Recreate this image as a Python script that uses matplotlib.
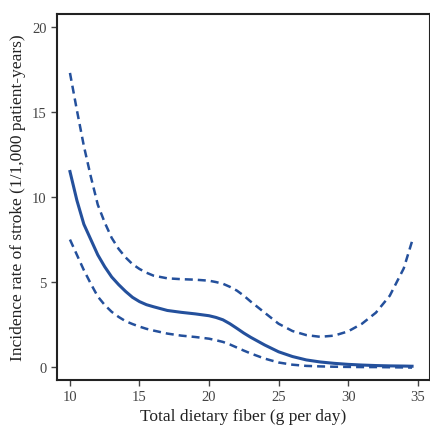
import matplotlib
matplotlib.use("Agg")
import matplotlib.pyplot as plt

LINE_COLOR = "#24509c"

fiber = [10, 10.5, 11, 11.5, 12, 12.5, 13, 13.5, 14, 14.5, 15, 15.5, 16, 17,
         18, 19, 20, 20.5, 21, 21.5, 22, 22.5, 23, 24, 25, 26, 27, 28, 29, 30,
         31, 32, 33, 34, 34.6]

rate = [11.5, 9.8, 8.4, 7.5, 6.6, 5.9, 5.3, 4.85, 4.45, 4.1, 3.85, 3.67, 3.55,
        3.33, 3.22, 3.13, 3.02, 2.92, 2.78, 2.55, 2.28, 2.0, 1.75, 1.3, 0.9,
        0.62, 0.42, 0.3, 0.22, 0.16, 0.12, 0.09, 0.07, 0.06, 0.05]

lower = [7.5, 6.6, 5.7, 4.9, 4.15, 3.65, 3.25, 2.95, 2.7, 2.53, 2.38, 2.25,
         2.15, 1.97, 1.85, 1.77, 1.67, 1.58, 1.48, 1.33, 1.15, 0.97, 0.8, 0.5,
         0.27, 0.14, 0.07, 0.04, 0.02, 0.01, 0.0, 0.0, -0.01, -0.02, -0.03]

upper = [17.3, 15.1, 13.0, 11.2, 9.55, 8.5, 7.6, 6.95, 6.45, 6.05, 5.77, 5.55,
         5.38, 5.22, 5.17, 5.14, 5.08, 5.0, 4.9, 4.72, 4.5, 4.2, 3.85, 3.2,
         2.55, 2.12, 1.88, 1.78, 1.85, 2.1, 2.55, 3.2, 4.2, 5.8, 7.4]

x_ticks = [10, 15, 20, 25, 30, 35]
y_ticks = [0, 5, 10, 15, 20]

plt.rcParams["font.family"] = ["Liberation Serif", "DejaVu Serif"]

fig = plt.figure(figsize=(4.31, 4.31), dpi=100)
ax = fig.add_axes([0.132, 0.116, 0.866, 0.849])

ax.plot(fiber, rate, color=LINE_COLOR, lw=2.2)
ax.plot(fiber, lower, color=LINE_COLOR, lw=1.8, dashes=(3.2, 2.0))
ax.plot(fiber, upper, color=LINE_COLOR, lw=1.8, dashes=(3.2, 2.0))

ax.set_xlim(9.06, 35.9)
ax.set_ylim(-0.76, 20.76)
ax.set_xticks(x_ticks)
ax.set_yticks(y_ticks)
ax.tick_params(direction="out", length=4, width=1, colors="#444444",
               labelsize=10.5)

for side in ["left", "bottom", "top", "right"]:
    ax.spines[side].set_linewidth(1.5)
    ax.spines[side].set_color("#222222")

ax.set_xlabel("Total dietary fiber (g per day)", fontsize=12.5, color="#222222",
              labelpad=3)
ax.set_ylabel("Incidence rate of stroke (1/1,000 patient-years)", fontsize=12.5,
              color="#222222", labelpad=4)

fig.savefig("out.png", dpi=100)
